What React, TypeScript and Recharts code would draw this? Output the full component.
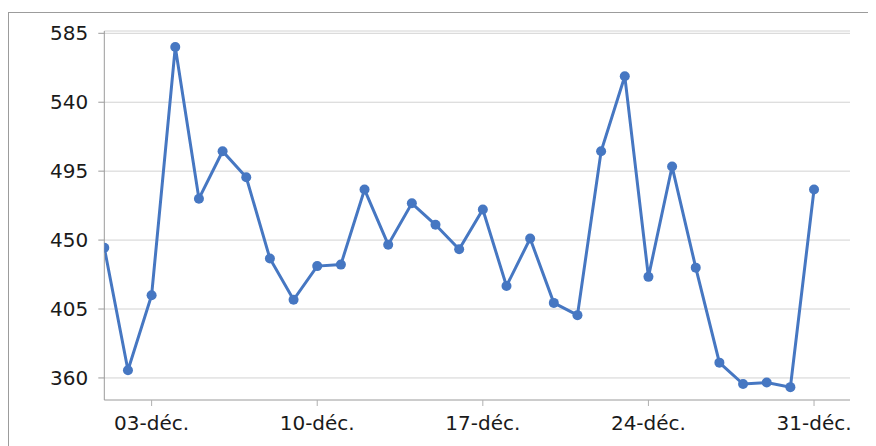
import { CartesianGrid, Line, LineChart, XAxis, YAxis } from 'recharts'

// one value per day, 1 to 31 December
const days = [
  1, 2, 3, 4, 5, 6, 7, 8, 9, 10, 11, 12, 13, 14, 15, 16, 17, 18, 19, 20, 21, 22, 23, 24,
  25, 26, 27, 28, 29, 30, 31,
]
const values = [
  445, 365, 414, 576, 477, 508, 491, 438, 411, 433, 434, 483, 447, 474, 460, 444, 470, 420,
  451, 409, 401, 508, 557, 426, 498, 432, 370, 356, 357, 354, 483,
]
const yTicks = [360, 405, 450, 495, 540, 585]
const xTicks = [3, 10, 17, 24, 31]

const data = days.map((day, i) => ({ day, value: values[i] }))

const lineColor = '#4677c2'
const font = 'DejaVu Sans, sans-serif'

const formatDay = (d: number) => `${String(d).padStart(2, '0')}-déc.`

export default function App() {
  return (
    <div style={{ position: 'relative', width: 868, height: 438, overflow: 'hidden' }}>
      <div
        style={{
          position: 'absolute',
          left: 0,
          top: 4,
          width: 900,
          height: 500,
          border: '1.5px solid #9c9c9c',
          boxSizing: 'border-box',
        }}
      />
      <LineChart
        width={868}
        height={438}
        data={data}
        margin={{ top: 23, right: 26, bottom: 0, left: 0 }}
        style={{ position: 'absolute', left: 0, top: 0 }}
      >
        <CartesianGrid vertical={false} stroke="#d2d2d2" strokeWidth={1} />
        <XAxis
          dataKey="day"
          type="number"
          domain={[1, 32.52]}
          ticks={xTicks}
          tickFormatter={formatDay}
          height={46}
          tickSize={6}
          tickMargin={10}
          stroke="#b0b0b0"
          tick={{ fill: '#1a1a1a', fontSize: 20, fontFamily: font }}
          allowDataOverflow
        />
        <YAxis
          type="number"
          domain={[345.6, 586.5]}
          ticks={yTicks}
          width={96.3}
          tickSize={6}
          tickMargin={10}
          stroke="#9a9a9a"
          tick={{ fill: '#1a1a1a', fontSize: 20, fontFamily: font }}
          allowDataOverflow
        />
        <Line
          dataKey="value"
          stroke={lineColor}
          strokeWidth={3}
          dot={{ r: 5, fill: lineColor, stroke: lineColor, strokeWidth: 0 }}
          isAnimationActive={false}
        />
      </LineChart>
    </div>
  )
}
